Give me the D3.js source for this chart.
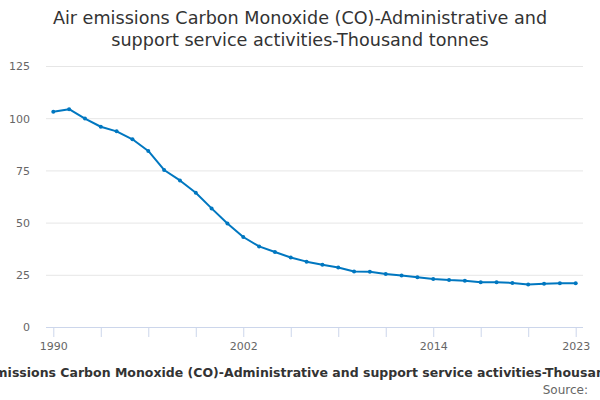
<!DOCTYPE html>
<html>
<head>
    <meta charset='utf-8'>
    <title>Air emissions CO</title>
    <style type="text/css">
        body { margin: 0; background: #fff; }
        text { font-family: "DejaVu Sans", sans-serif; }
        .grid line { stroke: #e6e6e6; stroke-width: 1; }
        .grid .domain { display: none; }
        .y-axis .domain { display: none; }
        .y-axis line { display: none; }
        .y-axis text { fill: #666; font-size: 11px; }
        .x-axis .domain { stroke: #ccd6eb; }
        .x-axis line { stroke: #ccd6eb; }
        .x-axis text { fill: #666; font-size: 11px; }
    </style>
</head>
<body>
    <script src="https://cdn.jsdelivr.net/npm/d3@7"></script>

    <div id="svgContainer"></div>

    <script type="text/javascript">

        const years = [1990, 1991, 1992, 1993, 1994, 1995, 1996, 1997, 1998, 1999,
            2000, 2001, 2002, 2003, 2004, 2005, 2006, 2007, 2008, 2009,
            2010, 2011, 2012, 2013, 2014, 2015, 2016, 2017, 2018, 2019,
            2020, 2021, 2022, 2023];
        const emissions = [103.1, 104.3, 99.8, 95.9, 93.7, 89.9, 84.3, 75.2, 70.2, 64.3,
            56.8, 49.6, 43.1, 38.6, 35.9, 33.3, 31.3, 29.8, 28.5, 26.6,
            26.5, 25.4, 24.7, 23.8, 23.0, 22.5, 22.2, 21.4, 21.4, 21.1,
            20.4, 20.7, 20.9, 20.9];
        const yTicks = [0, 25, 50, 75, 100, 125];
        const xTickYears = [1990, 1993, 1996, 1999, 2002, 2005, 2008, 2011, 2014, 2017, 2020, 2023];
        const xLabelYears = [1990, 2002, 2014, 2023];
        const titleLines = ["Air emissions Carbon Monoxide (CO)-Administrative and",
            "support service activities-Thousand tonnes"];
        const axisTitle = "Air emissions Carbon Monoxide (CO)-Administrative and support service activities-Thousand tonnes";

        const width = 600;
        const height = 400;
        const plotLeft = 46, plotRight = 583, plotTop = 66, plotBottom = 327;

        const svg = d3.select("#svgContainer").append("svg")
            .attr("width", width)
            .attr("height", height);

        const x = d3.scaleLinear()
            .domain([1990, 2023])
            .range([53.3, 575.7]);

        const y = d3.scaleLinear()
            .domain([0, 125])
            .range([plotBottom, plotTop]);

        // gridlines
        svg.append("g")
            .attr("class", "grid")
            .attr("transform", `translate(${plotLeft},0)`)
            .call(d3.axisLeft(y).tickValues(yTicks.slice(1)).tickSize(-(plotRight - plotLeft)).tickFormat(""));

        svg.append("g")
            .attr("class", "y-axis")
            .attr("transform", `translate(${plotLeft - 16},0)`)
            .call(d3.axisLeft(y).tickValues(yTicks).tickSize(0).tickPadding(0))
            .selectAll("text")
            .attr("dy", "0.35em");

        const xAxis = svg.append("g")
            .attr("class", "x-axis")
            .attr("transform", `translate(0,${plotBottom})`)
            .call(d3.axisBottom(x).tickValues(xTickYears).tickSize(10)
                .tickFormat(d => xLabelYears.includes(d) ? d : ""));
        xAxis.select(".domain").attr("d", `M${plotLeft},0.5H${plotRight}`);
        xAxis.selectAll("text").attr("dy", "0.9em");

        const data = years.map((yr, i) => ({ year: yr, value: emissions[i] }));

        const line = d3.line()
            .x(d => x(d.year))
            .y(d => y(d.value));

        svg.append("path")
            .datum(data)
            .attr("fill", "none")
            .attr("stroke", "#0077c0")
            .attr("stroke-width", 2)
            .attr("stroke-linejoin", "round")
            .attr("d", line);

        svg.append("g")
            .selectAll("circle")
            .data(data)
            .join("circle")
            .attr("cx", d => x(d.year))
            .attr("cy", d => y(d.value))
            .attr("r", 2)
            .attr("fill", "#0077c0");

        svg.append("g")
            .selectAll("text")
            .data(titleLines)
            .join("text")
            .attr("x", width / 2)
            .attr("y", (d, i) => 24 + i * 22)
            .attr("text-anchor", "middle")
            .attr("fill", "#333")
            .attr("font-size", "17.6px")
            .text(d => d);

        svg.append("text")
            .attr("x", 314)
            .attr("y", 377)
            .attr("text-anchor", "middle")
            .attr("fill", "#333")
            .attr("font-size", "12.5px")
            .attr("font-weight", "bold")
            .text(axisTitle);

        svg.append("text")
            .attr("x", 588)
            .attr("y", 394)
            .attr("text-anchor", "end")
            .attr("fill", "#666")
            .attr("font-size", "12px")
            .text("Source:");

    </script>
</body>
</html>
